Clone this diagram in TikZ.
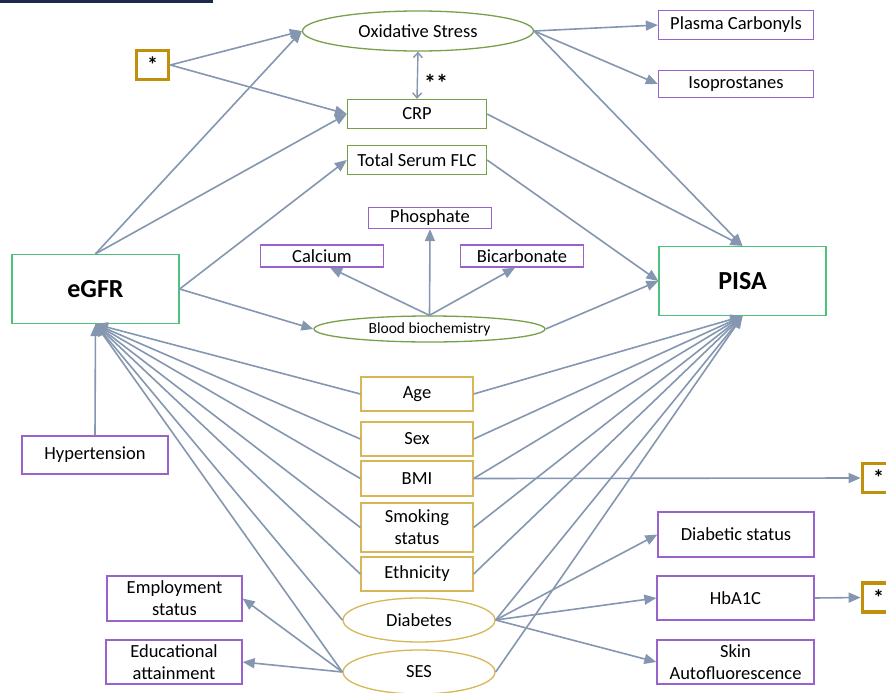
\documentclass[tikz,border=0pt]{standalone}
\usepackage{fontspec}
\setmainfont{Carlito}
\usetikzlibrary{arrows.meta,shapes.geometric}
\definecolor{arrc}{HTML}{8496B0}
\definecolor{gbox}{HTML}{4DC27B}
\definecolor{ogreen}{HTML}{77A04A}
\definecolor{purp}{HTML}{9A62CC}
\definecolor{goldb}{HTML}{D6B656}
\definecolor{starc}{HTML}{C0900C}
\definecolor{navy}{HTML}{1B2A4A}
\tikzset{
  arr/.style={draw=arrc, line width=1.6pt, -{Triangle[length=12pt,width=10pt]}},
  bx/.style={rectangle, fill=white, line width=1.3pt, inner sep=0pt, align=center, font=\fontsize{18.5}{19}\selectfont},
  mainbx/.style={bx, draw=gbox, minimum width=167pt, minimum height=69pt, font=\fontsize{26}{28}\selectfont\bfseries},
  ogbx/.style={bx, draw=ogreen, minimum width=139pt, minimum height=29pt},
  pbx/.style={bx, draw=purp},
  ybx/.style={bx, draw=goldb, minimum width=112pt, minimum height=34pt},
  ell/.style={ellipse, fill=white, line width=1.3pt, inner sep=0pt, align=center, font=\fontsize{18.5}{19}\selectfont},
  starbx/.style={rectangle, fill=white, draw=starc, line width=3.8pt, minimum width=32pt, minimum height=29pt, inner sep=0pt, font=\fontsize{22}{22}\selectfont\bfseries}
}
\begin{document}
\begin{tikzpicture}[x=1pt,y=-1pt]
\useasboundingbox (0,0) rectangle (886,693);
\fill[navy] (0,0) rectangle (213,3.5);
% nodes
\node[ell, draw=ogreen, minimum width=231pt, minimum height=40pt] (ox) at (418,31) {Oxidative Stress};
\node[pbx, minimum width=155pt, minimum height=29pt] (pc) at (736,25) {Plasma Carbonyls};
\node[pbx, minimum width=155pt, minimum height=27pt] (iso) at (736,84) {Isoprostanes};
\node[starbx] (s1) at (152.5,65) {*};
\node[ogbx] (crp) at (417,114) {CRP};
\node[ogbx] (flc) at (417,160) {Total Serum FLC};
\node[pbx, minimum width=123pt, minimum height=21pt] (pho) at (430,218) {Phosphate};
\node[pbx, minimum width=123pt, minimum height=22pt] (cal) at (322,256) {Calcium};
\node[pbx, minimum width=123pt, minimum height=22pt] (bic) at (522,256) {Bicarbonate};
\node[ell, draw=ogreen, minimum width=231pt, minimum height=26pt, font=\fontsize{15.5}{16}\selectfont] (bb) at (429.5,329) {Blood biochemistry};
\node[mainbx] (egfr) at (95.5,289) {eGFR};
\node[mainbx] (pisa) at (742.5,281) {PISA};
\node[pbx, minimum width=146pt, minimum height=38pt] (hyp) at (95,455) {Hypertension};
\node[ybx] (age) at (417,394) {Age};
\node[ybx] (sex) at (417,439) {Sex};
\node[ybx, minimum height=35pt] (bmi) at (417,478.5) {BMI};
\node[ybx, minimum height=49pt, font=\fontsize{18.5}{22}\selectfont] (smk) at (417,527.5) {Smoking\\status};
\node[ybx] (eth) at (417,574) {Ethnicity};
\node[ell, draw=goldb, minimum width=152pt, minimum height=44pt] (dia) at (419,620) {Diabetes};
\node[ell, draw=goldb, minimum width=152pt, minimum height=44pt] (ses) at (419,672) {SES};
\node[pbx, minimum width=135pt, minimum height=45pt, font=\fontsize{18.5}{22}\selectfont] (emp) at (174.5,598.5) {Employment\\status};
\node[pbx, minimum width=136pt, minimum height=44pt, font=\fontsize{18.5}{22}\selectfont] (edu) at (174,662) {Educational\\attainment};
\node[starbx] (s2) at (878.5,478) {*};
\node[pbx, minimum width=156pt, minimum height=45pt] (dst) at (736,534.5) {Diabetic status};
\node[pbx, minimum width=157pt, minimum height=44pt] (hba) at (735.5,598) {HbA1C};
\node[pbx, minimum width=157pt, minimum height=44pt, font=\fontsize{18.5}{22}\selectfont] (skin) at (735.5,662) {Skin\\Autofluorescence};
\node[starbx] (s3) at (878.5,597.5) {*};
\node[font=\fontsize{24}{24}\selectfont\bfseries, inner sep=0pt] (dstar) at (436,83) {**};
% connectors
\draw[arr] (s1.east) -- (ox.west);
\draw[arr] (s1.east) -- (crp.west);
\draw[arr] (egfr.north) -- (ox.west);
\draw[arr] (egfr.north) -- (crp.west);
\draw[arr] (egfr.east) -- (flc.west);
\draw[arr] (egfr.east) -- (bb.west);
\draw[draw=arrc, line width=1.4pt, {Straight Barb[length=5pt,width=9pt]}-{Straight Barb[length=5pt,width=9pt]}] (ox.south) -- (crp.north);
\draw[arr] (ox.east) -- (pc.west);
\draw[arr] (ox.east) -- (iso.west);
\draw[arr] (ox.east) -- (pisa.north);
\draw[arr] (crp.east) -- (pisa.north);
\draw[arr] (flc.east) -- (pisa.west);
\draw[arr] (bb.east) -- (pisa.west);
\draw[arr] (bb.north) -- ([xshift=8]cal.south);
\draw[arr] (bb.north) -- (pho.south);
\draw[arr] (bb.north) -- ([xshift=-7]bic.south);
\draw[arr] (hyp.north) -- (egfr.south);
\foreach \n in {age,sex,bmi,smk,eth,dia,ses}{
  \draw[arr] (\n.west) -- (egfr.south);
  \draw[arr] (\n.east) -- (pisa.south);
}
\draw[arr] (bmi.east) -- (s2.west);
\draw[arr] (dia.east) -- (dst.west);
\draw[arr] (dia.east) -- (hba.west);
\draw[arr] (dia.east) -- (skin.west);
\draw[arr] (hba.east) -- (s3.west);
\draw[arr] (ses.west) -- (emp.east);
\draw[arr] (ses.west) -- (edu.east);
\end{tikzpicture}
\end{document}
